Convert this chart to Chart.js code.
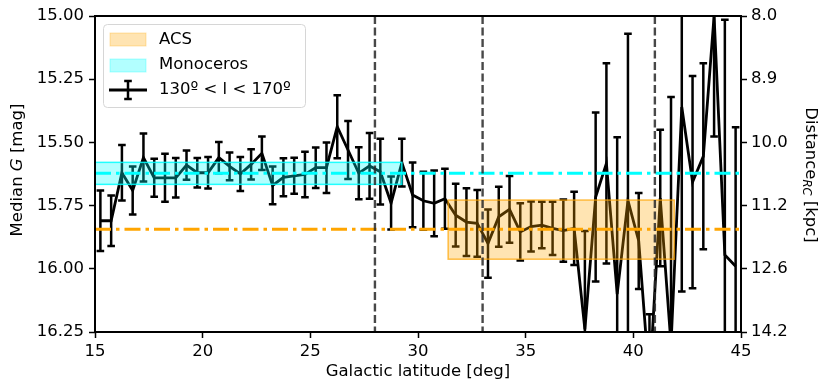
<!DOCTYPE html>
<html><head><meta charset="utf-8">
<script src="https://cdn.jsdelivr.net/npm/chart.js@4.4.1/dist/chart.umd.min.js"></script>
<style>html,body{margin:0;padding:0;background:#fff;}#wrap{width:830px;height:392px;}</style>
</head><body><div id="wrap"><canvas id="c" width="830" height="392"></canvas></div>
<script>
// ---- data ----
const latitude = [15.25,15.75,16.25,16.75,17.25,17.75,18.25,18.75,19.25,19.75,
  20.25,20.75,21.25,21.75,22.25,22.75,23.25,23.75,24.25,24.75,
  25.25,25.75,26.25,26.75,27.25,27.75,28.25,28.75,29.25,29.75,
  30.25,30.75,31.25,31.75,32.25,32.75,33.25,33.75,34.25,34.75,
  35.25,35.75,36.25,36.75,37.25,37.75,38.25,38.75,39.25,39.75,
  40.25,40.75,41.25,41.75,42.25,42.75,43.25,43.75,44.25,44.75];
const medianG = [15.81,15.81,15.62,15.69,15.56,15.64,15.64,15.64,15.59,15.62,
  15.62,15.56,15.595,15.625,15.587,15.543,15.67,15.638,15.632,15.627,
  15.60,15.60,15.438,15.53,15.622,15.593,15.616,15.74,15.58,15.708,
  15.731,15.741,15.723,15.788,15.815,15.82,15.90,15.794,15.765,15.854,
  15.833,15.827,15.84,15.849,15.84,16.24,15.716,15.583,16.10,15.73,
  15.89,16.45,15.72,16.30,15.36,15.657,15.555,15.00,15.945,15.99];
const errG = [0.12,0.10,0.11,0.095,0.095,0.075,0.095,0.078,0.058,0.058,
  0.062,0.062,0.055,0.067,0.06,0.066,0.075,0.075,0.071,0.09,
  0.08,0.10,0.125,0.115,0.103,0.13,0.13,0.105,0.094,0.128,
  0.115,0.13,0.119,0.124,0.134,0.132,0.135,0.119,0.132,0.113,
  0.099,0.092,0.105,0.123,0.145,0.39,0.334,0.396,0.62,0.66,
  0.19,0.27,0.27,0.98,0.73,0.42,0.368,0.477,0.93,0.55];
const magTicks = [15.00,15.25,15.50,15.75,16.00,16.25];
const distanceLabels = ['8.0','8.9','10.0','11.2','12.6','14.2'];
const latTicks = [15,20,25,30,35,40,45];
const boundaryLat = [28,33,41];
const monocerosLevel = 15.622;
const monocerosBand = [15.579,15.666];
const monocerosLat = [15,29.25];
const acsLevel = 15.844;
const acsBand = [15.728,15.962];
const acsLat = [31.4,41.9];
const legendLabels = ['ACS','Monoceros','130º < l < 170º'];

const FONT = '"DejaVu Sans", sans-serif';
const FS = 16.5;

const overlay = {
  id:'overlay',
  afterDatasetsDraw(chart){
    const {ctx, chartArea:a, scales:{x,y}} = chart;
    ctx.save();
    ctx.beginPath(); ctx.rect(a.left,a.top,a.right-a.left,a.bottom-a.top); ctx.clip();
    // error bars
    ctx.strokeStyle='#000'; ctx.lineWidth=2.5; ctx.lineCap='butt';
    for(let i=0;i<latitude.length;i++){
      const px=x.getPixelForValue(latitude[i]);
      const t=y.getPixelForValue(medianG[i]-errG[i]);
      const b=y.getPixelForValue(medianG[i]+errG[i]);
      ctx.beginPath(); ctx.moveTo(px,t); ctx.lineTo(px,b);
      ctx.moveTo(px-3.8,t); ctx.lineTo(px+3.8,t);
      ctx.moveTo(px-3.8,b); ctx.lineTo(px+3.8,b); ctx.stroke();
    }
    // bands
    const band=(lat,rng,fill,edge)=>{
      const x0=x.getPixelForValue(lat[0]),x1=x.getPixelForValue(lat[1]);
      const y0=y.getPixelForValue(rng[0]),y1=y.getPixelForValue(rng[1]);
      ctx.fillStyle=fill; ctx.fillRect(x0,y0,x1-x0,y1-y0);
      ctx.strokeStyle=edge; ctx.lineWidth=1.5; ctx.setLineDash([]);
      ctx.strokeRect(x0,y0,x1-x0,y1-y0);
    };
    band(monocerosLat,monocerosBand,'rgba(0,255,255,0.3)','rgba(0,255,255,0.85)');
    band(acsLat,acsBand,'rgba(255,165,0,0.3)','rgba(255,165,0,0.7)');
    // dash-dot level lines
    const hline=(lvl,col)=>{
      const py=y.getPixelForValue(lvl);
      ctx.strokeStyle=col; ctx.lineWidth=3; ctx.setLineDash([16,5,3.5,5]);
      ctx.beginPath(); ctx.moveTo(a.left,py); ctx.lineTo(a.right,py); ctx.stroke();
    };
    hline(monocerosLevel,'#00ffff');
    hline(acsLevel,'#ffa500');
    // boundaries
    ctx.strokeStyle='rgba(40,40,40,0.85)'; ctx.lineWidth=2.4; ctx.setLineDash([8,3.5]);
    for(const b of boundaryLat){
      const px=x.getPixelForValue(b);
      ctx.beginPath(); ctx.moveTo(px,a.top); ctx.lineTo(px,a.bottom); ctx.stroke();
    }
    ctx.restore();
  },
  afterDraw(chart){
    const {ctx, chartArea:a} = chart;
    ctx.save();
    // frame
    ctx.strokeStyle='#000'; ctx.lineWidth=2; ctx.setLineDash([]);
    ctx.strokeRect(a.left,a.top,a.right-a.left,a.bottom-a.top);
    // axis titles
    ctx.fillStyle='#000'; ctx.textBaseline='middle';
    ctx.font=FS+'px '+FONT; ctx.textAlign='center';
    ctx.fillText('Galactic latitude [deg]', (a.left+a.right)/2, 372);
    // left title
    ctx.save(); ctx.translate(18,(a.top+a.bottom)/2-4); ctx.rotate(-Math.PI/2);
    const p1='Median ', p2='G', p3=' [mag]';
    ctx.font=FS+'px '+FONT; const w1=ctx.measureText(p1).width, w3=ctx.measureText(p3).width;
    ctx.font='italic '+FS+'px '+FONT; const w2=ctx.measureText(p2).width;
    let sx=-(w1+w2+w3)/2; ctx.textAlign='left';
    ctx.font=FS+'px '+FONT; ctx.fillText(p1,sx,0); sx+=w1;
    ctx.font='italic '+FS+'px '+FONT; ctx.fillText(p2,sx,0); sx+=w2;
    ctx.font=FS+'px '+FONT; ctx.fillText(p3,sx,0);
    ctx.restore();
    // right title
    ctx.save(); ctx.translate(810,(a.top+a.bottom)/2+1); ctx.rotate(Math.PI/2);
    const q1='Distance', q2='RC', q3=' [kpc]';
    const sub=FS*0.7;
    ctx.font=FS+'px '+FONT; const v1=ctx.measureText(q1).width, v3=ctx.measureText(q3).width;
    ctx.font='italic '+sub+'px '+FONT; const v2=ctx.measureText(q2).width;
    let tx=-(v1+v2+v3)/2; ctx.textAlign='left';
    ctx.font=FS+'px '+FONT; ctx.fillText(q1,tx,0); tx+=v1;
    ctx.font='italic '+sub+'px '+FONT; ctx.fillText(q2,tx,4); tx+=v2;
    ctx.font=FS+'px '+FONT; ctx.fillText(q3,tx,0);
    ctx.restore();
    // legend
    const lx=103.5, ly=24.5, lw=202, lh=83;
    ctx.beginPath(); ctx.roundRect(lx,ly,lw,lh,4);
    ctx.fillStyle='rgba(255,255,255,0.85)'; ctx.fill();
    ctx.strokeStyle='#d6d6d6'; ctx.lineWidth=1; ctx.stroke();
    ctx.fillStyle='rgba(255,165,0,0.3)'; ctx.fillRect(110,33,36,13);
    ctx.strokeStyle='rgba(255,165,0,0.3)'; ctx.strokeRect(110,33,36,13);
    ctx.fillStyle='rgba(0,255,255,0.3)'; ctx.fillRect(110,59,36,13);
    ctx.strokeStyle='rgba(0,255,255,0.3)'; ctx.strokeRect(110,59,36,13);
    ctx.strokeStyle='#000'; ctx.lineWidth=2.8;
    ctx.beginPath(); ctx.moveTo(109,90); ctx.lineTo(147,90); ctx.stroke();
    ctx.lineWidth=2.5;
    ctx.beginPath(); ctx.moveTo(128,81); ctx.lineTo(128,99);
    ctx.moveTo(124.2,81); ctx.lineTo(131.8,81); ctx.moveTo(124.2,99); ctx.lineTo(131.8,99); ctx.stroke();
    ctx.fillStyle='#000'; ctx.font=FS+'px '+FONT; ctx.textAlign='left'; ctx.textBaseline='middle';
    ctx.fillText(legendLabels[0],159,40);
    ctx.fillText(legendLabels[1],159,65);
    ctx.fillText(legendLabels[2],159,90);
    ctx.restore();
  }
};

const tickFont = {family:FONT, size:FS};
const grid = {display:true, drawOnChartArea:false, drawTicks:true, tickLength:6, tickWidth:1.5, tickColor:'#000'};

new Chart(document.getElementById('c'), {
  type:'line',
  data:{datasets:[{
    label:legendLabels[2],
    data: latitude.map((v,i)=>({x:v, y:medianG[i]})),
    borderColor:'#000', borderWidth:2.8, pointRadius:0, tension:0, fill:false
  }]},
  options:{
    responsive:false, animation:false, devicePixelRatio:1,
    layout:{padding:{top:16,left:0,right:0,bottom:0}},
    plugins:{legend:{display:false}, tooltip:{enabled:false}},
    scales:{
      x:{type:'linear', min:15, max:45, position:'bottom',
        afterBuildTicks(s){ s.ticks = latTicks.map(v=>({value:v})); },
        afterFit(s){ s.height = 60; },
        ticks:{font:tickFont, color:'#000', padding:4, maxRotation:0, autoSkip:false,
          callback:(v)=>String(v)},
        grid:grid, border:{display:false}},
      y:{type:'linear', position:'left', reverse:true, min:15, max:16.25,
        afterBuildTicks(s){ s.ticks = magTicks.map(v=>({value:v})); },
        afterFit(s){ s.width = 95; },
        ticks:{font:tickFont, color:'#000', padding:5, autoSkip:false,
          callback:(v)=>Number(v).toFixed(2)},
        grid:grid, border:{display:false}},
      y2:{type:'linear', position:'right', reverse:true, min:15, max:16.25,
        afterBuildTicks(s){ s.ticks = magTicks.map(v=>({value:v})); },
        afterFit(s){ s.width = 89; },
        ticks:{font:tickFont, color:'#000', padding:4, autoSkip:false,
          callback:(v)=>{ const k = magTicks.findIndex(m=>Math.abs(m-v)<1e-6); return k>=0 ? distanceLabels[k] : ''; }},
        grid:grid, border:{display:false}}
    }
  },
  plugins:[overlay]
});
</script></body></html>
